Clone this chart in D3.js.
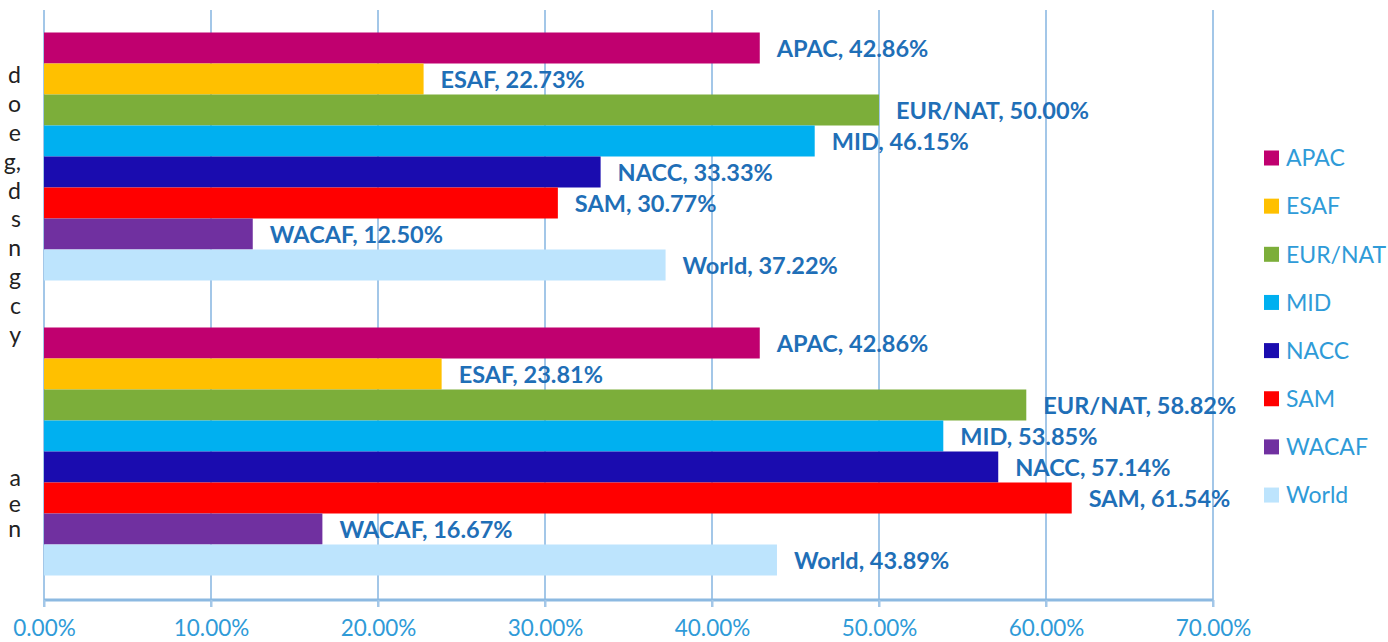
<!DOCTYPE html>
<html>
<head>
<meta charset="utf-8">
<script src="https://cdn.jsdelivr.net/npm/d3@7"></script>
<style>
  html, body { margin: 0; padding: 0; background: #fff; }
  svg { display: block; }
</style>
</head>
<body>
<svg id="chart" width="1388" height="642"></svg>
<script>
// regions in legend order, values per group (as fractions)
const regions = ['APAC', 'ESAF', 'EUR/NAT', 'MID', 'NACC', 'SAM', 'WACAF', 'World'];
const groups = ['g1', 'g2'];
const group1Values = [0.4286, 0.2273, 0.5000, 0.4615, 0.3333, 0.3077, 0.1250, 0.3722];
const group2Values = [0.4286, 0.2381, 0.5882, 0.5385, 0.5714, 0.6154, 0.1667, 0.4389];
const tickValues = [0, 0.1, 0.2, 0.3, 0.4, 0.5, 0.6, 0.7];
// category labels are clipped by the left edge, only their line endings show
const group1Label = ['d', 'o', 'e', 'g,', 'd', 's', 'n', 'g', 'c', 'y'];
const group2Label = ['a', 'e', 'n'];

const colors = ['#C0006F', '#FFC000', '#7CAE3A', '#00B0F0', '#1A0CAF', '#FF0000', '#7030A0', '#BDE4FD'];

const valuesByGroup = { g1: group1Values, g2: group2Values };
const labelsByGroup = { g1: group1Label, g2: group2Label };

const svg = d3.select('#chart');
const font = 'Lato, Calibri, "Open Sans", sans-serif';

const x = d3.scaleLinear().domain([0, 0.7]).range([44, 1213]);
const y0 = d3.scaleBand().domain(groups).range([9, 599]);
const barBlock = 248;
const y1 = d3.scaleBand().domain(regions).range([0, barBlock]);
const color = d3.scaleOrdinal().domain(regions).range(colors);
const pct = d3.format('.2%');

// gridlines
svg.append('g')
  .selectAll('line')
  .data(tickValues)
  .join('line')
  .attr('x1', d => x(d)).attr('x2', d => x(d))
  .attr('y1', 10).attr('y2', 607)
  .attr('stroke', '#A3C7E8')
  .attr('stroke-width', 2);

// bars
const gGroups = svg.append('g')
  .selectAll('g')
  .data(groups)
  .join('g')
  .attr('transform', d => `translate(0,${y0(d) + (y0.bandwidth() - barBlock) / 2})`);

gGroups.selectAll('rect')
  .data(g => regions.map((r, i) => ({ region: r, value: valuesByGroup[g][i] })))
  .join('rect')
  .attr('x', x(0))
  .attr('y', d => y1(d.region))
  .attr('width', d => x(d.value) - x(0))
  .attr('height', y1.bandwidth())
  .attr('fill', d => color(d.region));

gGroups.selectAll('text.lbl')
  .data(g => regions.map((r, i) => ({ region: r, value: valuesByGroup[g][i] })))
  .join('text')
  .attr('class', 'lbl')
  .attr('x', d => x(d.value) + 17)
  .attr('y', d => y1(d.region) + y1.bandwidth() / 2)
  .attr('dy', '0.4em')
  .attr('font-family', font)
  .attr('font-weight', 700)
  .attr('font-size', 23.5)
  .attr('fill', '#1F6FB7')
  .text(d => `${d.region}, ${pct(d.value)}`);

// x axis
const xAxis = svg.append('g')
  .attr('transform', 'translate(0,600)')
  .call(d3.axisBottom(x).tickValues(tickValues).tickFormat(pct).tickSize(7));
xAxis.select('.domain').attr('stroke', '#8CB9E1').attr('stroke-width', 3).attr('d', `M${x(0)},0H${x(0.7)}`);
xAxis.selectAll('.tick line').attr('stroke', '#A3C7E8').attr('stroke-width', 2);
xAxis.selectAll('.tick text')
  .attr('y', 36)
  .attr('dy', 0)
  .attr('font-family', font)
  .attr('font-size', 22.5)
  .attr('fill', '#2F9BD8');

// clipped category labels on the left
const catLines = [
  { group: 'g1', first: 77, step: 28.8 },
  { group: 'g2', first: 480, step: 25.3 }
];
catLines.forEach(c => {
  svg.append('g')
    .selectAll('text')
    .data(labelsByGroup[c.group])
    .join('text')
    .attr('x', 21)
    .attr('y', (d, i) => c.first + i * c.step)
    .attr('dy', '0.28em')
    .attr('text-anchor', 'end')
    .attr('font-family', font)
    .attr('font-size', 23)
    .attr('fill', '#222')
    .text(d => d);
});

// legend
const legend = svg.append('g')
  .selectAll('g')
  .data(regions)
  .join('g')
  .attr('transform', (d, i) => `translate(1264,${158 + i * 48.15})`);
legend.append('rect')
  .attr('x', 0).attr('y', -7.5)
  .attr('width', 15).attr('height', 15)
  .attr('fill', d => color(d));
legend.append('text')
  .attr('x', 22)
  .attr('dy', '0.36em')
  .attr('font-family', font)
  .attr('font-size', 23)
  .attr('fill', '#2F9BD8')
  .text(d => d);
</script>
</body>
</html>
